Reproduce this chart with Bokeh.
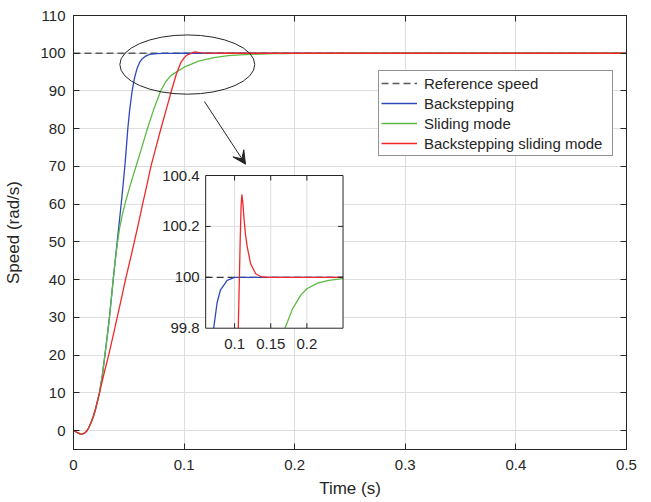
import numpy as np
from bokeh.plotting import figure
from bokeh.models import (Range1d, FixedTicker, LinearAxis, Arrow, VeeHead,
                          CustomJSTickFormatter, LinearScale)
from bokeh.core.properties import value
from bokeh.embed import file_html
from bokeh.resources import INLINE

# ---------------- data ----------------
ref_t = [0.0, 0.5]
ref_v = [100.0, 100.0]

blue_t = [0, 0.002, 0.004, 0.006, 0.008, 0.010, 0.012, 0.014, 0.016, 0.018, 0.020, 0.022,
          0.0235, 0.026, 0.0284, 0.0305, 0.0325, 0.0342, 0.0359, 0.0377, 0.0395, 0.0413,
          0.0431, 0.0448, 0.0464, 0.0478, 0.0491, 0.0508, 0.053, 0.0552, 0.0575, 0.060,
          0.062, 0.0645, 0.067, 0.0711, 0.0758, 0.0804, 0.0897, 0.100, 0.25, 0.5]
blue_v = [0, -0.3, -0.6, -0.85, -0.9, -0.65, -0.1, 0.9, 2.2, 3.8, 5.8, 8.2,
          10, 14.5, 20, 25, 30, 35, 40, 45, 50, 55,
          60, 65, 70, 75, 80, 85, 90, 93.5, 96, 97.7,
          98.5, 99.1, 99.5, 99.8, 99.9, 99.95, 99.988, 100, 100, 100]

green_t = [0, 0.002, 0.004, 0.006, 0.008, 0.010, 0.012, 0.014, 0.016, 0.018, 0.020, 0.022,
           0.0235, 0.026, 0.0284, 0.0305, 0.0325, 0.0342, 0.0359, 0.0377,
           0.0396, 0.0416, 0.044, 0.0465, 0.0493, 0.0528, 0.0565, 0.0617, 0.0668, 0.0724,
           0.0788, 0.0835, 0.0885, 0.1, 0.113, 0.127, 0.14, 0.151, 0.16, 0.1697, 0.18,
           0.1915, 0.2, 0.2147, 0.23, 0.25, 0.3, 0.5]
green_v = [0, -0.3, -0.6, -0.85, -0.9, -0.65, -0.1, 0.9, 2.2, 3.8, 5.8, 8.2,
           10, 14.5, 20, 25, 30, 35, 40, 45,
           49.5, 53.5, 57, 60, 63, 66.5, 70, 75, 80, 85,
           90, 92.5, 94.2, 96.3, 97.9, 98.85, 99.35, 99.58, 99.7, 99.8, 99.875,
           99.93, 99.955, 99.977, 99.988, 99.995, 100, 100]

red_t = [0, 0.002, 0.004, 0.006, 0.008, 0.010, 0.012, 0.014, 0.016, 0.018, 0.020, 0.022,
         0.0235, 0.0275, 0.0318, 0.0357, 0.0395, 0.0433, 0.047, 0.051, 0.055, 0.0588,
         0.0625, 0.0663, 0.070, 0.0745, 0.079, 0.0838, 0.0885, 0.093, 0.097, 0.100,
         0.1025, 0.1051, 0.1065, 0.1078, 0.109, 0.1101, 0.1112, 0.1129, 0.115, 0.1176,
         0.1222, 0.1292, 0.136, 0.145, 0.25, 0.5]
red_v = [0, -0.3, -0.6, -0.85, -0.9, -0.65, -0.1, 0.9, 2.2, 3.8, 5.8, 8.2,
         10, 15, 20, 25, 30, 35, 40, 45, 50, 55,
         60, 65, 70, 75, 80, 85, 90, 94.5, 97.5, 98.8,
         99.5, 99.8, 99.98, 100.15, 100.28, 100.325, 100.3, 100.236, 100.17, 100.118,
         100.053, 100.014, 100.003, 100, 100, 100]

x_ticks = [0, 0.1, 0.2, 0.3, 0.4, 0.5]
y_ticks = [0, 10, 20, 30, 40, 50, 60, 70, 80, 90, 100, 110]

inset_x_window = [0.06, 0.25]
inset_y_window = [99.8, 100.4]
inset_x_ticks = [0.1, 0.15, 0.2]
inset_x_labels = ["0.1", "0.15", "0.2"]
inset_y_ticks = [99.8, 100.0, 100.2, 100.4]
inset_y_labels = ["99.8", "100", "100.2", "100.4"]

# ---------------- styles / placement ----------------
FONT = "Liberation Sans"
TXT = "#262626"
GRID = "#dedede"
C_REF = "#5a5a5a"
C_BLUE = "#3049b8"
C_GREEN = "#5cbb45"
C_RED = "#f02828"
LW = 1.3

# inset placement in main-axis data units
inset_target_x = (0.1195, 0.2437)
inset_target_y = (27.14, 67.6)
# zoom ellipse and arrow (main data units)
ell_x, ell_y, ell_w, ell_h = 0.1029, 97.0, 0.122, 15.7
arr_x0, arr_y0, arr_x1, arr_y1 = 0.1184, 87.2, 0.1555, 70.6

p = figure(width=649, height=500, x_range=Range1d(0, 0.5), y_range=Range1d(-5, 110),
           output_backend="svg", toolbar_location=None,
           min_border_left=73, min_border_right=23, min_border_top=15, min_border_bottom=51)
p.background_fill_color = "white"
p.border_fill_color = "white"
p.outline_line_color = TXT
p.outline_line_width = 1

p.xaxis.ticker = FixedTicker(ticks=x_ticks)
p.yaxis.ticker = FixedTicker(ticks=y_ticks)
p.xgrid.ticker = FixedTicker(ticks=x_ticks)
p.ygrid.ticker = FixedTicker(ticks=y_ticks)
for g in (p.xgrid[0], p.ygrid[0]):
    g.grid_line_color = GRID
    g.grid_line_width = 1

p.xaxis.axis_label = "Time (s)"
p.yaxis.axis_label = "Speed (rad/s)"
for ax in (p.xaxis[0], p.yaxis[0]):
    ax.major_tick_in = 6
    ax.major_tick_out = 0
    ax.minor_tick_line_color = None
    ax.axis_line_color = TXT
    ax.major_tick_line_color = TXT
    ax.major_label_text_font = FONT
    ax.major_label_text_font_size = "15px"
    ax.major_label_text_color = TXT
    ax.axis_label_text_font = FONT
    ax.axis_label_text_font_size = "17px"
    ax.axis_label_text_font_style = "normal"
    ax.axis_label_text_color = TXT
p.xaxis.major_label_standoff = 10
p.xaxis.axis_label_standoff = 6
p.yaxis.major_label_standoff = 8
p.yaxis.axis_label_standoff = 14

for loc, tk in (("right", y_ticks), ("above", x_ticks)):
    ax = LinearAxis(ticker=FixedTicker(ticks=tk),
                    formatter=CustomJSTickFormatter(code="return ''"),
                    major_tick_in=6, major_tick_out=0, minor_tick_line_color=None,
                    major_label_standoff=0, major_label_text_font_size="0px",
                    axis_line_color=TXT, major_tick_line_color=TXT)
    p.add_layout(ax, loc)

# ---------------- main curves ----------------
p.line(ref_t, ref_v, line_color=C_REF, line_width=LW, line_dash="7 4",
       legend_label="Reference speed")
p.line(blue_t, blue_v, line_color=C_BLUE, line_width=LW, legend_label="Backstepping")
p.line(green_t, green_v, line_color=C_GREEN, line_width=LW, legend_label="Sliding mode")
p.line(red_t, red_v, line_color=C_RED, line_width=LW,
       legend_label="Backstepping sliding mode")

# zoom ellipse + arrow
p.ellipse(x=[ell_x], y=[ell_y], width=[ell_w], height=[ell_h],
          fill_color=None, line_color=TXT, line_width=1)
p.add_layout(Arrow(end=VeeHead(size=13, fill_color=TXT, line_color=TXT, line_width=1),
                   x_start=arr_x0, y_start=arr_y0, x_end=arr_x1, y_end=arr_y1,
                   line_color=TXT, line_width=1))

# legend
lg = p.legend[0]
lg.location = (305, 293)
lg.label_text_font = FONT
lg.label_text_font_size = "15px"
lg.label_text_color = TXT
lg.border_line_color = TXT
lg.border_line_width = 1
lg.background_fill_alpha = 1
lg.glyph_width = 36
lg.glyph_height = 20
lg.label_height = 20
lg.label_width = 186
lg.label_standoff = 7
lg.padding = 2
lg.spacing = 0
lg.margin = 0

# ---------------- inset ----------------
ins = p.subplot(x_source=Range1d(*inset_x_window), y_source=Range1d(*inset_y_window),
                x_scale=LinearScale(), y_scale=LinearScale(),
                x_target=Range1d(*inset_target_x), y_target=Range1d(*inset_target_y))
x0, x1 = inset_x_window
y0, y1 = inset_y_window
ins.quad(left=[x0], right=[x1], bottom=[y0], top=[y1], fill_color="white", line_color=None)
ins.segment(x0=inset_x_ticks, y0=[y0] * 3, x1=inset_x_ticks, y1=[y1] * 3,
            line_color=GRID, line_width=1)
ins.segment(x0=[x0], y0=[100.2], x1=[x1], y1=[100.2], line_color=GRID, line_width=1)


def clip(t, v):
    t = np.asarray(t, float)
    v = np.asarray(v, float)
    m = (v >= y0 - 1e-9) & (v <= y1) & (t >= x0) & (t <= x1)
    return t[m], v[m]


ins.line([x0, x1], [100.0, 100.0], line_color="#333333", line_width=LW, line_dash="7 4")
for (tt, vv, c) in ((blue_t, blue_v, C_BLUE), (green_t, green_v, C_GREEN), (red_t, red_v, C_RED)):
    ct, cv = clip(tt, vv)
    ins.line(ct, cv, line_color=c, line_width=LW)

# inset ticks (inward, ~5 px)
dx = 5.0 * (x1 - x0) / 138.0
dy = 5.0 * (y1 - y0) / 152.7
inner_y = [100.0, 100.2]
ins.segment(x0=[x0] * 2, y0=inner_y, x1=[x0 + dx] * 2, y1=inner_y, line_color=TXT, line_width=1)
ins.segment(x0=[x1] * 2, y0=inner_y, x1=[x1 - dx] * 2, y1=inner_y, line_color=TXT, line_width=1)
ins.segment(x0=inset_x_ticks, y0=[y0] * 3, x1=inset_x_ticks, y1=[y0 + dy] * 3, line_color=TXT, line_width=1)
ins.segment(x0=inset_x_ticks, y0=[y1] * 3, x1=inset_x_ticks, y1=[y1 - dy] * 3, line_color=TXT, line_width=1)
ins.quad(left=[x0], right=[x1], bottom=[y0], top=[y1], fill_color=None, line_color=TXT, line_width=1)

ins.text(x=[x0] * 4, y=inset_y_ticks, text=inset_y_labels, text_align="right",
         text_baseline="middle", x_offset=-6, text_font=value(FONT),
         text_font_size="15px", text_color=TXT)
ins.text(x=inset_x_ticks, y=[y0] * 3, text=inset_x_labels, text_align="center",
         text_baseline="top", y_offset=11, text_font=value(FONT),
         text_font_size="15px", text_color=TXT)

open("out.html", "w").write(file_html(p, INLINE))
